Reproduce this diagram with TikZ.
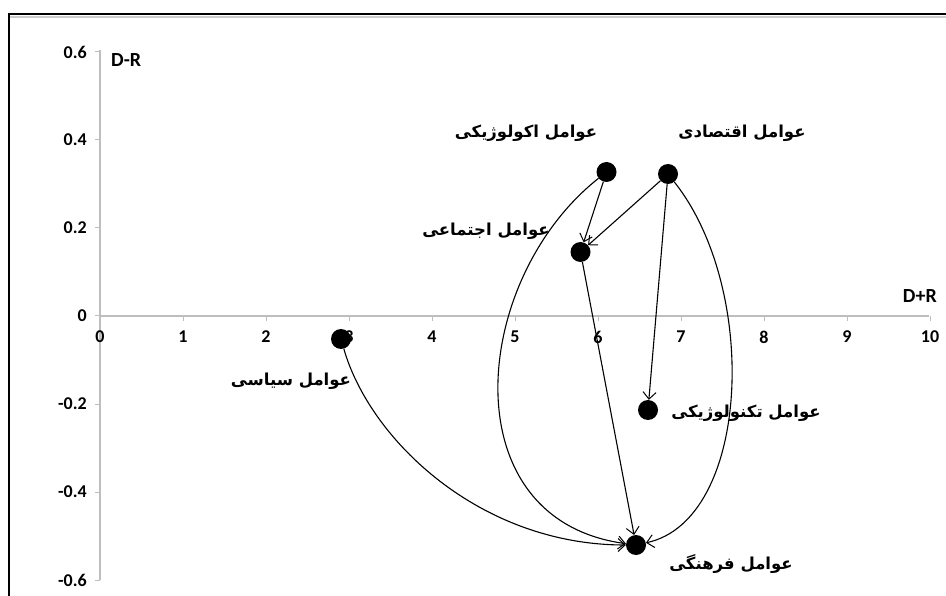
\documentclass[tikz,border=0pt]{standalone}
\usepackage{fontspec}
\setmainfont{Carlito}
\newfontfamily\arabicfont[Script=Arabic]{DejaVu Sans}
\TeXXeTstate=1
\usetikzlibrary{arrows.meta}
\definecolor{axisgray}{RGB}{190,190,190}
\tikzset{
  dot/.style={circle,fill=black,minimum size=20pt,inner sep=0pt},
  tick/.style={font=\fontsize{18}{18}\selectfont\bfseries},
  axlabel/.style={font=\fontsize{20}{20}\selectfont\bfseries,inner sep=0pt},
  fa/.style={font=\arabicfont\bfseries\fontsize{16.5}{16.5}\selectfont,inner sep=0pt},
  link/.style={line width=1.1pt,-{Straight Barb[length=7pt,width=13pt,line width=1pt]}},
  axisline/.style={axisgray,line width=1.5pt}
}
\newcommand{\fatext}[1]{\beginR #1\endR}
\begin{document}
\begin{tikzpicture}[x=1pt,y=-1pt]
\useasboundingbox (0,0) rectangle (946,596);
\fill[white] (0,0) rectangle (946,596);
% frame (cropped)
\draw[gray!40,line width=2pt] (10,17) -- (946,17);
\draw[black,line width=2pt] (9,596) -- (9,14) -- (946,14);
% axes
\draw[axisline] (100,50) -- (100,580);
\draw[axisline] (100,316) -- (929,316);
\foreach \v/\yy in {0.6/52,0.4/140,0.2/228,0/316,-0.2/404,-0.4/492,-0.6/580}{
  \draw[axisgray,line width=1pt] (95,\yy) -- (100,\yy);
  \node[tick,anchor=east,inner sep=0pt] at (87,\yy) {\v};
}
\foreach \k in {0,...,10}{
  \draw[axisgray,line width=1pt] (100+83*\k,316) -- (100+83*\k,321);
  \node[tick,inner sep=0pt] at (100+83*\k,337) {\k};
}
\node[axlabel,anchor=west] (dr) at (111,60) {D-R};
\node[axlabel,anchor=east] (dpr) at (937,296) {D+R};
% points
\node[dot] (eco) at (606.5,172) {};
\node[dot] (ecn) at (668,174) {};
\node[dot] (soc) at (580.5,252) {};
\node[dot] (pol) at (341,339) {};
\node[dot] (tec) at (648,410) {};
\node[dot] (cul) at (636,545) {};
% labels
\node[fa] (leco) at (526,133) {\fatext{عوامل اکولوژیکی}};
\node[fa] (lecn) at (742,133) {\fatext{عوامل اقتصادی}};
\node[fa] (lsoc) at (486,231) {\fatext{عوامل اجتماعی}};
\node[fa] (lpol) at (291,381) {\fatext{عوامل سیاسی}};
\node[fa] (ltec) at (746,413) {\fatext{عوامل تکنولوژیکی}};
\node[fa] (lcul) at (731,564) {\fatext{عوامل فرهنگی}};
% connectors
\draw[link] (eco) -- (soc);
\draw[link] (ecn) -- (soc);
\draw[link] (ecn) -- (tec);
\draw[link] (soc) -- (cul);
\draw[link] (eco) .. controls (470,280) and (450,520) .. (cul);
\draw[link] (ecn) .. controls (760,290) and (750,520) .. (cul);
\draw[link] (pol) .. controls (370,440) and (480,545) .. (cul);
\end{tikzpicture}
\end{document}
